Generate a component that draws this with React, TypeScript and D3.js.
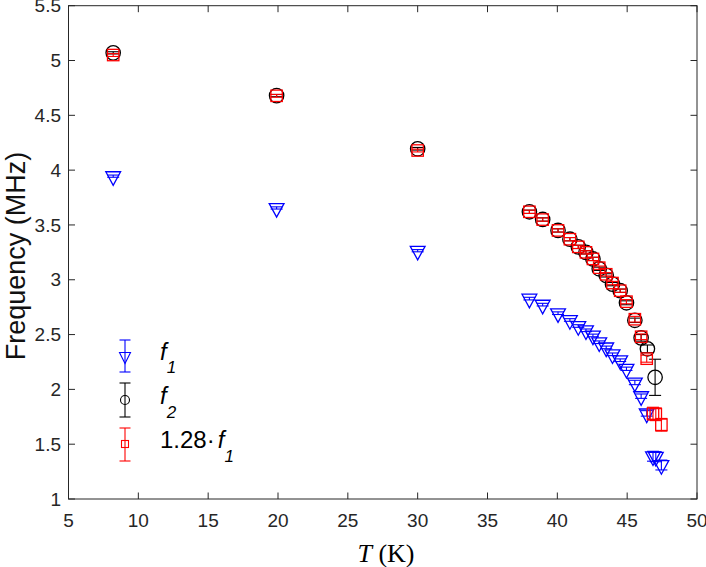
import React from "react";
import * as d3 from "d3";

const xTicks = [5, 10, 15, 20, 25, 30, 35, 40, 45, 50];
const yTicks = [1, 1.5, 2, 2.5, 3, 3.5, 4, 4.5, 5, 5.5];

const T1 = [8.2, 19.9, 30.0, 38.0, 38.95, 40.05, 40.9, 41.5, 42.05, 42.55, 43.0, 43.5, 43.95, 44.5, 44.95, 45.55, 46.0, 46.4, 46.85, 47.05, 47.45];
const f1 = [3.945, 3.655, 3.265, 2.828, 2.773, 2.695, 2.633, 2.578, 2.539, 2.492, 2.43, 2.383, 2.32, 2.266, 2.188, 2.063, 1.938, 1.781, 1.39, 1.385, 1.31];
const f1Err = [0.01, 0.01, 0.01, 0.012, 0.012, 0.012, 0.012, 0.012, 0.012, 0.012, 0.012, 0.012, 0.012, 0.012, 0.015, 0.02, 0.02, 0.025, 0.045, 0.045, 0.045];

const scaled = [5.05, 4.678, 4.179, 3.62, 3.549, 3.45, 3.37, 3.3, 3.25, 3.19, 3.11, 3.05, 2.97, 2.9, 2.8, 2.64, 2.48, 2.28, 1.779, 1.773, 1.677];
const scaledErr = [0.013, 0.013, 0.013, 0.015, 0.015, 0.015, 0.015, 0.015, 0.015, 0.015, 0.015, 0.015, 0.015, 0.015, 0.019, 0.026, 0.026, 0.032, 0.058, 0.058, 0.058];

const T2 = [8.2, 19.9, 30.0, 38.0, 38.95, 40.05, 40.9, 41.5, 42.05, 42.55, 43.0, 43.5, 43.95, 44.5, 44.95, 45.55, 46.0, 46.45, 47.0];
const f2 = [5.07, 4.68, 4.195, 3.62, 3.55, 3.45, 3.37, 3.3, 3.25, 3.19, 3.1, 3.04, 2.96, 2.9, 2.79, 2.63, 2.47, 2.37, 2.11];
const f2Err = [0.01, 0.01, 0.012, 0.015, 0.015, 0.015, 0.015, 0.015, 0.015, 0.015, 0.015, 0.015, 0.015, 0.015, 0.018, 0.02, 0.03, 0.035, 0.165];

const W = 706;
const H = 567;
const L = 68.5, R = 697, TOP = 5.7, B = 499;
const AX = "#262626";
const SANS = "'Liberation Sans', Arial, Helvetica, sans-serif";
const SERIF = "'Liberation Serif', 'Times New Roman', serif";

const x = d3.scaleLinear().domain([5, 50]).range([L, R]);
const y = d3.scaleLinear().domain([1, 5.5]).range([B, TOP]);

const tri = (cx: number, cy: number, hw: number, up: number, down: number) =>
  `M${cx - hw},${cy - up}L${cx + hw},${cy - up}L${cx},${cy + down}Z`;

function ErrBar({ cx, y0, y1, color, cap = 6 }: { cx: number; y0: number; y1: number; color: string; cap?: number }) {
  return (
    <g stroke={color} strokeWidth={1.1} fill="none">
      <line x1={cx} x2={cx} y1={y0} y2={y1} />
      <line x1={cx - cap} x2={cx + cap} y1={y0} y2={y0} />
      <line x1={cx - cap} x2={cx + cap} y1={y1} y2={y1} />
    </g>
  );
}

export default function App() {
  const tick = 6.5;
  return (
    <div style={{ position: "absolute", left: 0, top: 0 }}>
      <svg width={W} height={H} viewBox={`0 0 ${W} ${H}`} style={{ display: "block", background: "#fff" }}>
        {/* axes box */}
        <rect x={L} y={TOP} width={R - L} height={B - TOP} fill="none" stroke={AX} strokeWidth={1} />
        {xTicks.map((t) => (
          <g key={"x" + t}>
            <line x1={x(t)} x2={x(t)} y1={B} y2={B - tick} stroke={AX} />
            <line x1={x(t)} x2={x(t)} y1={TOP} y2={TOP + tick} stroke={AX} />
            <text x={x(t)} y={527} textAnchor="middle" fontFamily={SANS} fontSize={19} fill={AX}>
              {t}
            </text>
          </g>
        ))}
        {yTicks.map((t) => (
          <g key={"y" + t}>
            <line x1={L} x2={L + tick} y1={y(t)} y2={y(t)} stroke={AX} />
            <line x1={R} x2={R - tick} y1={y(t)} y2={y(t)} stroke={AX} />
            <text x={61} y={y(t)} dy="0.35em" textAnchor="end" fontFamily={SANS} fontSize={19} fill={AX}>
              {t}
            </text>
          </g>
        ))}

        {/* f1 series */}
        {T1.map((t, i) => (
          <g key={"f1" + i}>
            <ErrBar cx={x(t)} y0={y(f1[i] - f1Err[i])} y1={y(f1[i] + f1Err[i])} color="#0000ff" />
            <path d={tri(x(t), y(f1[i]), 7.4, 4.4, 9.2)} fill="none" stroke="#0000ff" strokeWidth={1.3} />
          </g>
        ))}
        {/* f2 series */}
        {T2.map((t, i) => (
          <g key={"f2" + i}>
            <ErrBar cx={x(t)} y0={y(f2[i] - f2Err[i])} y1={y(f2[i] + f2Err[i])} color="#000000" />
            <circle cx={x(t)} cy={y(f2[i])} r={7.2} fill="none" stroke="#000" strokeWidth={1.3} />
          </g>
        ))}
        {/* 1.28 f1 series */}
        {T1.map((t, i) => (
          <g key={"sc" + i}>
            <ErrBar cx={x(t)} y0={y(scaled[i] - scaledErr[i])} y1={y(scaled[i] + scaledErr[i])} color="#ff0000" />
            <rect x={x(t) - 5.7} y={y(scaled[i]) - 5.7} width={11.4} height={11.4} fill="none" stroke="#ff0000" strokeWidth={1.3} />
          </g>
        ))}

        {/* legend */}
        <g>
          <ErrBar cx={125} y0={340} y1={372} color="#0000ff" cap={5.5} />
          <path d={tri(125, 356, 5.5, 3.5, 7.5)} fill="none" stroke="#0000ff" strokeWidth={1.1} />
          <ErrBar cx={125} y0={383} y1={417} color="#000" cap={5.5} />
          <circle cx={125} cy={400} r={4.5} fill="none" stroke="#000" strokeWidth={1.1} />
          <ErrBar cx={125} y0={428} y1={461} color="#ff0000" cap={5.5} />
          <rect x={121.5} y={440.5} width={7} height={7} fill="none" stroke="#ff0000" strokeWidth={1.1} />

          <text x={160} y={360} fontFamily={SANS} fontSize={24} fill="#000">
            <tspan fontStyle="italic">f</tspan>
            <tspan fontStyle="italic" fontSize={17} dy={13}>1</tspan>
          </text>
          <text x={160} y={404} fontFamily={SANS} fontSize={24} fill="#000">
            <tspan fontStyle="italic">f</tspan>
            <tspan fontStyle="italic" fontSize={17} dy={14}>2</tspan>
          </text>
          <text x={160} y={448} fontFamily={SANS} fontSize={24} fill="#000">
            <tspan>1.28·</tspan>
            <tspan fontStyle="italic" dx={3}>f</tspan>
            <tspan fontStyle="italic" fontSize={17} dy={14}>1</tspan>
          </text>
        </g>

        {/* axis labels */}
        <text x={386} y={562} textAnchor="middle" fontFamily={SERIF} fontSize={26} fill="#000">
          <tspan fontStyle="italic">T</tspan>
          <tspan> (K)</tspan>
        </text>
        <text
          transform={`translate(25,256) rotate(-90)`}
          textAnchor="middle"
          fontFamily={SANS}
          fontSize={27}
          fill="#111"
        >
          Frequency (MHz)
        </text>
      </svg>
    </div>
  );
}
